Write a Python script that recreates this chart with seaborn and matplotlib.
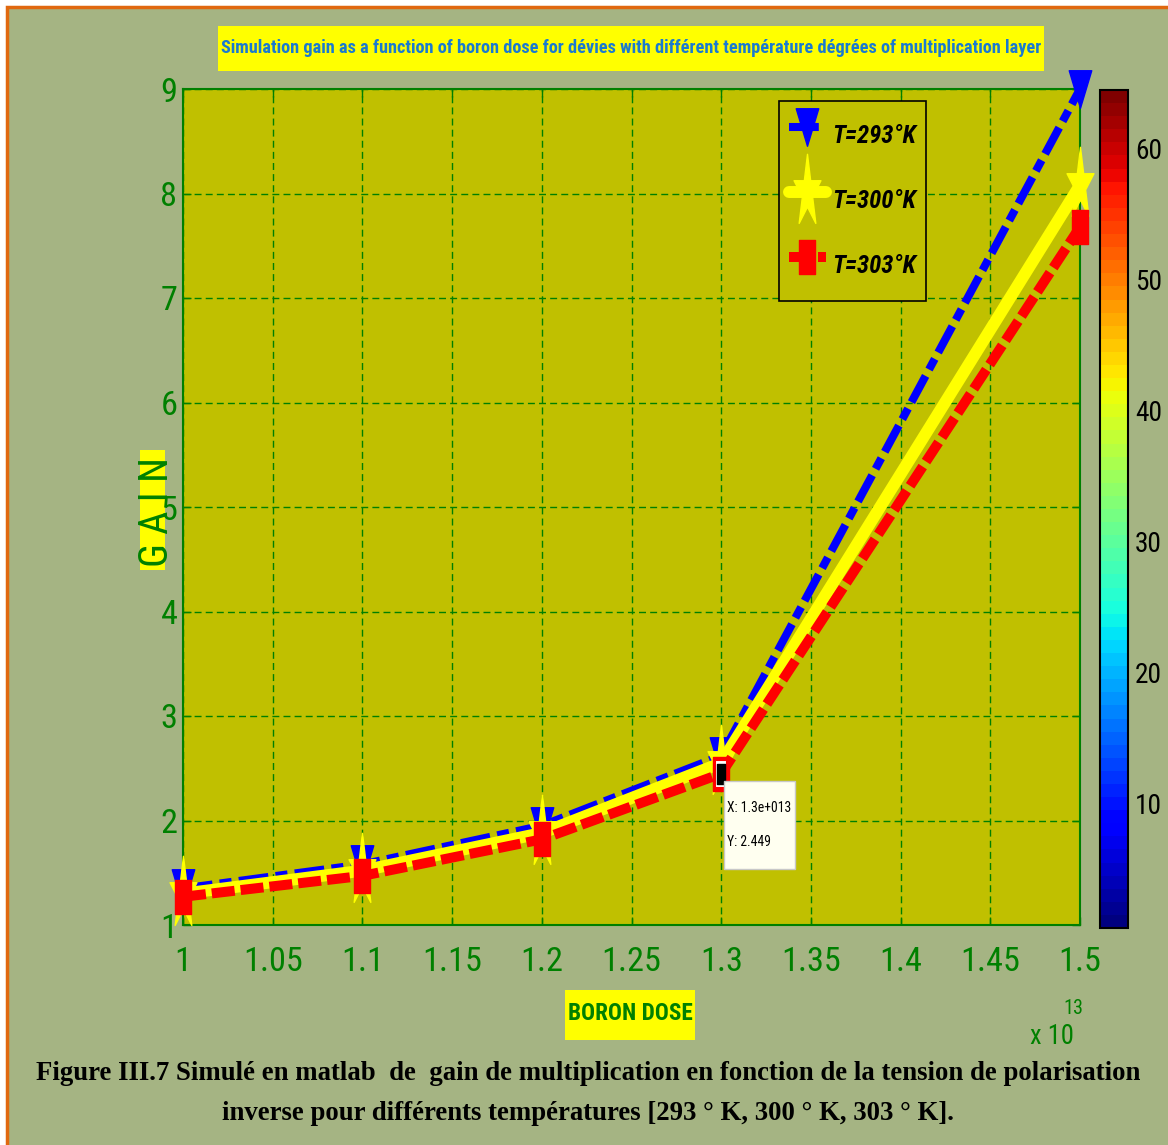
import numpy as np
import pandas as pd
import matplotlib
matplotlib.use("Agg")
import matplotlib as mpl
import matplotlib.pyplot as plt
from matplotlib.path import Path
from matplotlib.patches import Rectangle
from matplotlib import font_manager
from matplotlib.font_manager import FontProperties
import seaborn as sns

# ---------------- data ----------------
boron_dose = [1.0e13, 1.1e13, 1.2e13, 1.3e13, 1.5e13]
gain_293k = [1.35, 1.58, 1.95, 2.62, 9.00]
gain_300k = [1.30, 1.52, 1.88, 2.55, 8.08]
gain_303k = [1.27, 1.47, 1.82, 2.449, 7.68]
series_names = ["T=293°K", "T=300°K", "T=303°K"]

x_scale = 1e13
x_tick_values = [1.0, 1.05, 1.1, 1.15, 1.2, 1.25, 1.3, 1.35, 1.4, 1.45, 1.5]
x_tick_labels = ["1", "1.05", "1.1", "1.15", "1.2", "1.25", "1.3", "1.35", "1.4", "1.45", "1.5"]
y_tick_values = [1, 2, 3, 4, 5, 6, 7, 8, 9]
cbar_tick_values = [10, 20, 30, 40, 50, 60]

title_text = ("Simulation gain as a function of boron dose for dévies with "
              "différent température dégrées of multiplication layer")
xlabel_text = "BORON DOSE"
ylabel_text = "G A I N"
caption_lines = [
    "Figure III.7 Simulé en matlab  de  gain de multiplication en fonction de la tension de polarisation",
    "inverse pour différents températures [293 ° K, 300 ° K, 303 ° K].",
]

# ---------------- fonts: prefer a narrow sans face ----------------
sns.set_style("ticks")
entries = font_manager.fontManager.ttflist
names = {f.name for f in entries}
cond_names = sorted({f.name for f in entries
                     if any(k in f.name for k in ("Narrow", "Condensed"))
                     and "Mono" not in f.name and "Serif" not in f.name})
cond_stretch = sorted({f.name for f in entries
                       if str(f.stretch) in ("condensed", "semi-condensed", "extra-condensed",
                                             "ultra-condensed")})
stretch = "normal"
if "Liberation Sans Narrow" in names:
    narrow = "Liberation Sans Narrow"
elif cond_names:
    pref = [n for n in ("Roboto Condensed", "Noto Sans Condensed", "Open Sans Condensed",
                        "DejaVu Sans Condensed") if n in cond_names]
    narrow = pref[0] if pref else cond_names[0]
elif cond_stretch:
    pref = [n for n in ("DejaVu Sans", "Noto Sans", "Open Sans", "Roboto") if n in cond_stretch]
    narrow = pref[0] if pref else cond_stretch[0]
    stretch = "condensed"
else:
    narrow = "Liberation Sans"
plt.rcParams["font.family"] = [narrow, "DejaVu Sans"]
plt.rcParams["font.stretch"] = stretch
plt.rcParams["text.color"] = "black"

W, H = 1168, 1145
GREEN = "#008000"
AX_FACE = "#c0c000"
BG = "#a5b483"
YELLOW = "#ffff00"


def fx(px):
    return px / W


def fy(py):
    return 1 - py / H


# marker shapes
tri_path = Path([(-0.3, 0.5), (0.3, 0.5), (0.0, -0.5), (-0.3, 0.5)],
                [Path.MOVETO, Path.LINETO, Path.LINETO, Path.CLOSEPOLY])
rect_path = Path([(-0.23, -0.5), (0.23, -0.5), (0.23, 0.5), (-0.23, 0.5), (-0.23, -0.5)],
                 [Path.MOVETO, Path.LINETO, Path.LINETO, Path.LINETO, Path.CLOSEPOLY])
ang = np.pi / 2 + np.arange(10) * np.pi / 5
rad = np.where(np.arange(10) % 2 == 0, 1.0, 0.38)
star_xy = np.column_stack([rad * np.cos(ang), 2.7 * rad * np.sin(ang)])
star_xy = np.vstack([star_xy, star_xy[:1]])
star_path = Path(star_xy, [Path.MOVETO] + [Path.LINETO] * 9 + [Path.CLOSEPOLY])

styles = {
    "T=293°K": dict(color="#0000ff", linewidth=5.8, linestyle=(0, (3.7, 0.9, 1.5, 0.9)),
                    marker=tri_path, markersize=27),
    "T=300°K": dict(color="#ffff00", linewidth=8.6, linestyle="-",
                    marker=star_path, markersize=55),
    "T=303°K": dict(color="#ff0000", linewidth=7.2, linestyle=(0, (2.3, 0.6)),
                    marker=rect_path, markersize=24),
}

df = pd.DataFrame({"dose": np.array(boron_dose) / x_scale,
                   series_names[0]: gain_293k,
                   series_names[1]: gain_300k,
                   series_names[2]: gain_303k})
long_df = df.melt(id_vars="dose", var_name="series", value_name="gain")

fig = plt.figure(figsize=(W / 100, H / 100), dpi=100)
fig.patch.set_facecolor("white")
fig.patches.append(Rectangle((fx(7), -0.05), 1.2, fy(7) + 0.05, transform=fig.transFigure,
                             facecolor=BG, edgecolor="#e0680f", linewidth=2.5, zorder=-3))

ax = fig.add_axes([fx(183), fy(925), fx(1080) - fx(183), fy(89) - fy(925)])
ax.set_facecolor(AX_FACE)

for name in series_names:
    st = styles[name]
    sub = long_df[long_df["series"] == name]
    sns.lineplot(data=sub, x="dose", y="gain", ax=ax, errorbar=None, sort=True,
                 color=st["color"], linewidth=st["linewidth"], linestyle=st["linestyle"],
                 marker=st["marker"], markersize=st["markersize"],
                 markerfacecolor=st["color"], markeredgecolor=st["color"],
                 markeredgewidth=1, clip_on=False, label=name, zorder=3)

ax.set_xlim(1.0, 1.5)
ax.set_ylim(1, 9)
ax.set_xticks(x_tick_values)
ax.set_xticklabels(x_tick_labels)
ax.set_yticks(y_tick_values)
ax.grid(True, color=GREEN, linestyle=(0, (5, 3)), linewidth=1)
ax.set_axisbelow(True)
for sp in ax.spines.values():
    sp.set_color(GREEN)
    sp.set_linewidth(1.5)
ax.tick_params(axis="both", direction="in", length=6, width=1, colors=GREEN,
               top=True, right=True, labelsize=25)
ax.tick_params(axis="x", pad=15)
ax.tick_params(axis="y", pad=4)

# axis labels on yellow boxes
ax.set_xlabel(xlabel_text, fontsize=19, fontweight="bold", color=GREEN)
ax.xaxis.set_label_coords((630 - 183) / 897, (925 - 1013) / 836)
ax.xaxis.label.set_va("center")
ax.set_ylabel(ylabel_text, fontsize=20, color=GREEN)
ax.yaxis.set_label_coords((156 - 183) / 897, (925 - 512) / 836)
ax.yaxis.label.set_va("center")
for (x0, y0, x1, y1) in [(565, 990, 695, 1040), (140, 450, 165, 570), (218, 26, 1044, 71)]:
    fig.patches.append(Rectangle((fx(x0), fy(y1)), fx(x1) - fx(x0), fy(y0) - fy(y1),
                                 transform=fig.transFigure, facecolor=YELLOW,
                                 edgecolor="none", zorder=-1))

title = fig.text(fx(631), fy(48), title_text, ha="center", va="center", fontsize=15,
                 fontweight="bold", color="#1a7ad0")

# data cursor on the 303 K curve at 1.3e13
tip_x = boron_dose[3] / x_scale
tip_y = gain_303k[3]
mant, expo = f"{boron_dose[3]:.1e}".split("e")
tip_label = f"\nX: {mant}e+{int(expo):03d}\n\nY: {tip_y:.3f}\n"
ax.plot([tip_x], [tip_y], marker=rect_path, markersize=20, markerfacecolor="white",
        markeredgecolor="red", markeredgewidth=1.5, zorder=6, linestyle="none")
ax.plot([tip_x], [tip_y], marker=rect_path, markersize=14, markerfacecolor="black",
        markeredgecolor="black", zorder=7, linestyle="none")
tip = ax.annotate(tip_label, xy=(tip_x, tip_y), xytext=(6, -11), textcoords="offset pixels",
                  ha="left", va="top", fontsize=11.5, linespacing=1.25, color="black",
                  bbox=dict(boxstyle="square,pad=0.25", facecolor="#fffff0",
                            edgecolor="#c8c8c8"),
                  zorder=8)

# colorbar
cax = fig.add_axes([fx(1100), fy(928), fx(1128) - fx(1100), fy(90) - fy(928)])
sm = mpl.cm.ScalarMappable(norm=mpl.colors.Normalize(0.5, 64.5),
                           cmap=mpl.colormaps["jet"].resampled(64))
cbar = fig.colorbar(sm, cax=cax, ticks=cbar_tick_values)
cbar.outline.set_edgecolor("black")
cbar.outline.set_linewidth(1.5)
cax.tick_params(labelsize=20, colors="black", direction="in", length=4,
                left=True, right=True, labelleft=False, labelright=True, pad=5)

# x-axis multiplier
mult = fig.text(fx(1030), fy(1037), "x 10", ha="left", va="center", fontsize=22, color=GREEN)
mult_exp = fig.text(fx(1063), fy(1009), "13", ha="left", va="center", fontsize=16, color=GREEN)

# caption
captions = []
for i, line in enumerate(caption_lines):
    captions.append(fig.text(fx(588), fy(1073 + 40 * i), line, ha="center", va="center",
                             fontsize=16.5, fontweight="bold",
                             family=["Liberation Serif", "DejaVu Serif"], color="black"))

# legend font size from the width of one entry
leg_prop = FontProperties(family=[narrow, "DejaVu Sans"], size=24, weight="bold",
                          style="italic", stretch=stretch)
probe = fig.text(0, 0, series_names[0], fontproperties=leg_prop)

# ---------------- size the texts to their widths in the layout ----------------
fig.canvas.draw()
renderer = fig.canvas.get_renderer()


def scaled_size(artist, target_px, use_height=False):
    bb = artist.get_window_extent(renderer)
    cur = bb.height if use_height else bb.width
    return artist.get_fontsize() * target_px / max(cur, 1e-6)


tick_size = scaled_size(ax.get_xticklabels()[1], 60)
ax.tick_params(axis="both", labelsize=tick_size)
cax.tick_params(labelsize=scaled_size(cax.get_yticklabels()[5], 27))
title.set_fontsize(scaled_size(title, 822))
ax.xaxis.label.set_fontsize(scaled_size(ax.xaxis.label, 124))
ax.yaxis.label.set_fontsize(scaled_size(ax.yaxis.label, 110, use_height=True))
tip.set_fontsize(scaled_size(tip, 64))
mult.set_fontsize(scaled_size(mult, 44))
mult_exp.set_fontsize(scaled_size(mult_exp, 20))
cap_size = scaled_size(captions[0], 1100)
for c in captions:
    c.set_fontsize(cap_size)
leg_prop.set_size(scaled_size(probe, 84))
probe.remove()

handles = ax.get_lines()[:3]
leg = ax.legend(handles, series_names, loc="upper left",
                bbox_to_anchor=((779 - 183) / 897, (925 - 101) / 836), borderaxespad=0,
                prop=leg_prop, handlelength=1.5, handleheight=2.75, handletextpad=0.25,
                labelspacing=0.6, borderpad=0.4,
                frameon=True, fancybox=False, framealpha=1, facecolor=AX_FACE,
                edgecolor="black", numpoints=1)
leg.get_frame().set_linewidth(1.2)
for t in leg.get_texts():
    t.set_color("black")

fig.savefig("out.png", dpi=100)
